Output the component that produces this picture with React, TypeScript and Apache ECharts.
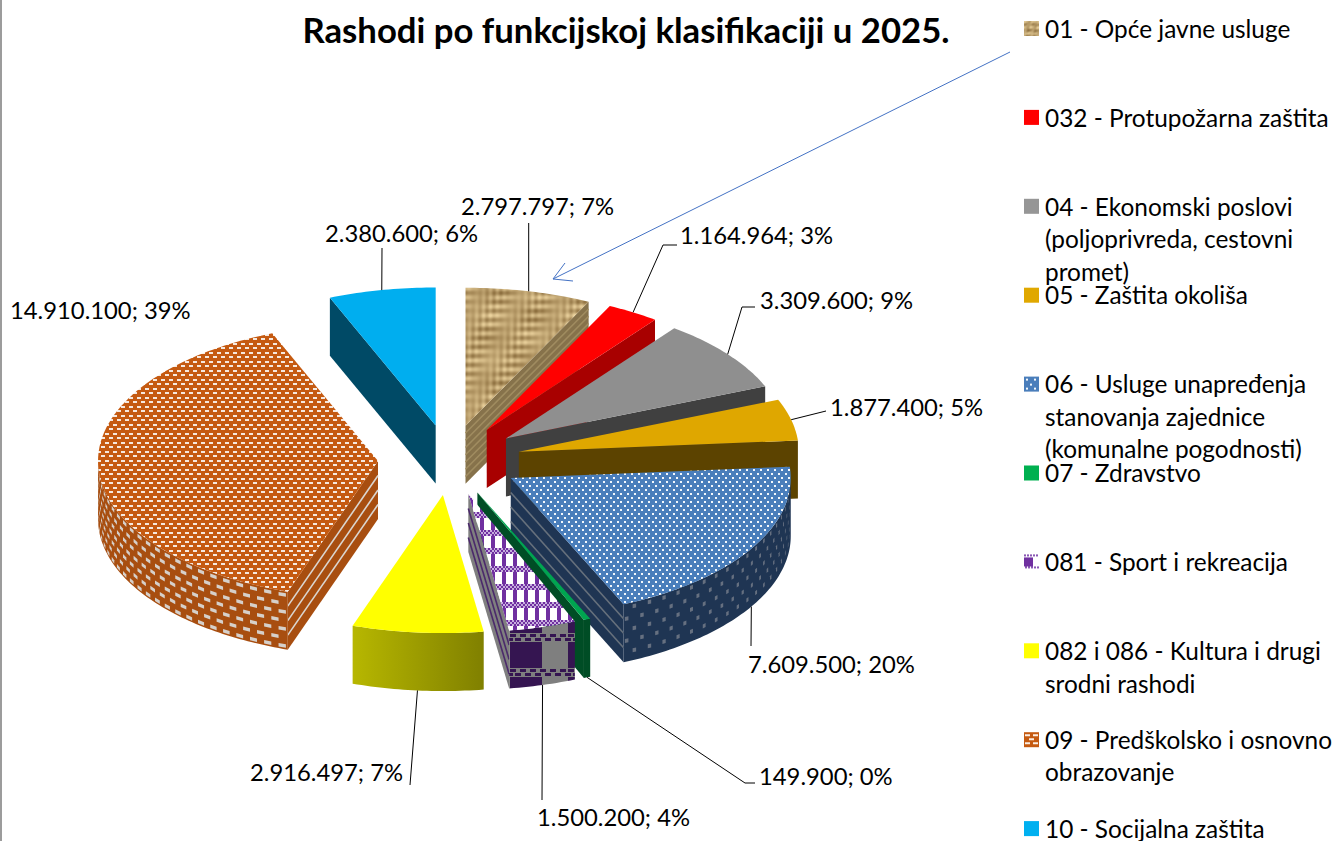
import React, { useEffect, useRef } from "react";
import * as echarts from "echarts";

const titleText = "Rashodi po funkcijskoj klasifikaciji u 2025.";
const categories = [
  "01 - Opće javne usluge",
  "032 - Protupožarna zaštita",
  "04 - Ekonomski poslovi\n(poljoprivreda, cestovni\npromet)",
  "05 - Zaštita okoliša",
  "06 - Usluge unapređenja\nstanovanja zajednice\n(komunalne pogodnosti)",
  "07 - Zdravstvo",
  "081 - Sport i rekreacija",
  "082 i 086 - Kultura i drugi\nsrodni rashodi",
  "09 - Predškolsko i osnovno\nobrazovanje",
  "10 - Socijalna zaštita",
];
const values = [2797797, 1164964, 3309600, 1877400, 7609500, 149900, 1500200, 2916497, 14910100, 2380600];
const valueLabels = ["2.797.797", "1.164.964", "3.309.600", "1.877.400", "7.609.500", "149.900", "1.500.200", "2.916.497", "14.910.100", "2.380.600"];
const percents = [7, 3, 9, 5, 20, 0, 4, 7, 39, 6];

// painter's order, back to front
const drawOrder = [0, 1, 2, 3, 9, 8, 4, 5, 6, 7];

// pie projection
const CX = 449.4, CY = 460, RX = 280, RY = 138, DEPTH = 58, EXPLODE = 0.255;
const total = values.reduce((a, b) => a + b, 0);
const rad = (d: number) => (d * Math.PI) / 180;
const startAngles: number[] = [];
values.reduce((acc, v, i) => { startAngles[i] = (acc / total) * 360; return acc + v; }, 0);
const endAngle = (i: number) => startAngles[i] + (values[i] / total) * 360;
const midAngle = (i: number) => (startAngles[i] + endAngle(i)) / 2;
const apex = (i: number) => {
  const m = rad(midAngle(i));
  return [CX + EXPLODE * RX * Math.sin(m), CY - EXPLODE * RY * Math.cos(m)];
};
const rim = (i: number, deg: number, dy = 0) => {
  const a = apex(i);
  return [a[0] + RX * Math.sin(rad(deg)), a[1] - RY * Math.cos(rad(deg)) + dy];
};
const arcPoints = (i: number, from: number, to: number, dy = 0) => {
  const pts: number[][] = [];
  const n = Math.max(2, Math.ceil(Math.abs(to - from)));
  for (let k = 0; k <= n; k++) pts.push(rim(i, from + ((to - from) * k) / n, dy));
  return pts;
};

// label layout: [left, middle] of the text, then the elbow/end points of the leader
const labelPos = [[461, 206], [680, 235], [760, 300], [830, 407], [748, 664], [759, 776], [537, 817], [250, 772], [10, 310], [325, 233]];
const leaderEnds: number[][][] = [
  [[528.7, 223]],
  [[663, 245], [677, 245]],
  [[742, 307], [755, 307]],
  [[826, 411]],
  [[751, 646]],
  [[745, 783], [755, 783]],
  [[542, 800]],
  [[410, 785]],
  [],
  [[382, 248]],
];
const leaderOnWall = [false, false, false, false, true, true, true, true, false, false];

function canvas(w: number, h: number, draw: (c: CanvasRenderingContext2D) => void) {
  const cv = document.createElement("canvas");
  cv.width = w;
  cv.height = h;
  draw(cv.getContext("2d")!);
  return cv;
}
function tile(w: number, h: number, draw: (c: CanvasRenderingContext2D) => void) {
  return { image: canvas(w, h, draw), repeat: "repeat", imageWidth: w, imageHeight: h };
}
const rects = (c: CanvasRenderingContext2D, color: string, list: number[][]) => {
  c.fillStyle = color;
  list.forEach((r) => c.fillRect(r[0], r[1], r[2], r[3]));
};
const paintBurlap = (c: CanvasRenderingContext2D, w: number, h: number, warpP: number, weftP: number) => {
  const img = c.createImageData(w, h);
  const T = 2 * Math.PI;
  for (let y = 0; y < h; y++)
    for (let x = 0; x < w; x++) {
      const warp = Math.cos((T * x) / warpP) * (0.7 + 0.5 * Math.cos((T * y) / h + (T * 2 * x) / w));
      const weft = Math.cos((T * y) / weftP) * (0.7 + 0.5 * Math.sin((T * 2 * x) / w + (T * y) / h));
      const low = Math.cos((T * x) / w + 1) * Math.cos((T * 2 * y) / h);
      const t = Math.max(0, Math.min(1, 0.5 + 0.14 * warp + 0.26 * weft + 0.1 * low));
      const p = (y * w + x) * 4;
      img.data[p] = 140 + t * 95;
      img.data[p + 1] = 110 + t * 100;
      img.data[p + 2] = 62 + t * 95;
      img.data[p + 3] = 255;
    }
  c.putImageData(img, 0, 0);
};
const burlap = () => tile(84, 90, (c) => paintBurlap(c, 84, 90, 7, 9));
const bluePattern = () =>
  tile(7, 8, (c) => {
    rects(c, "#4a7ebb", [[0, 0, 7, 8]]);
    rects(c, "#f4f8fc", [[1, 1, 2, 2], [4, 5, 2, 2]]);
  });
const orangePattern = () =>
  tile(8, 9, (c) => {
    rects(c, "#c55a11", [[0, 0, 8, 9]]);
    rects(c, "#f6e9df", [[1, 1, 4, 2], [5, 5, 3, 2], [0, 5, 1, 2]]);
  });
// bands and bars are placed where the reference has them on the page grid
const purplePattern = () =>
  tile(11, 18, (c) => {
    rects(c, "#ffffff", [[0, 0, 11, 18]]);
    rects(c, "#7030a0", [[7, 0, 4, 18]]);
    rects(c, "#c7aede", [[0, 8, 11, 6]]);
    rects(c, "#7030a0", [[0, 8, 2, 2], [4, 8, 2, 2], [8, 8, 2, 2], [2, 10, 2, 2], [6, 10, 2, 2], [10, 10, 1, 2], [0, 12, 2, 2], [4, 12, 2, 2], [8, 12, 2, 2]]);
  });
const purpleWall = () =>
  tile(58, 35, (c) => {
    const ox = 46, oy = 3; // page origin of the weave, modulo the tile
    [[0, 0], [-58, 0], [0, -35], [-58, -35]].forEach(([dx, dy]) => {
      c.save();
      c.translate(ox + dx, oy + dy);
      rects(c, "#351551", [[0, 0, 32, 35]]);
      rects(c, "#7f7f7f", [[32, 0, 26, 35]]);
      rects(c, "#7f7f7f", [[0, 0, 58, 9]]);
      for (let x = 0; x < 58; x += 10) rects(c, "#351551", [[x, 1, 6, 3], [x + 5, 5, 6, 3]]);
      c.restore();
    });
  });

const LinearGradient = (echarts.graphic as any).LinearGradient;

function buildStyles() {
  return [
    { top: burlap(), arc: "#7f6a45", side: "#86724b", stripes: ["#a08c60", 7] },
    { top: "#ff0000", arc: "#a80000", side: "#a80000" },
    { top: "#8f8f8f", arc: "#404040", side: "#404040" },
    { top: "#dfa700", arc: "#5c4300", side: "#5c4300" },
    { top: bluePattern(), arc: "#1f3553", side: "#1f3553", stripes: ["#66707c", 3], dashes: { color: "#667080", step: 3.5, width: 0.8, rowStep: 11, h: 4 } },
    { top: "#00a550", arc: "#004d25", side: "#004d25" },
    { top: purplePattern(), arc: purpleWall(), side: "#7f7f7f", stripes: ["#4b2a6b", 3] },
    { top: "#ffff00", arc: new LinearGradient(0, 0, 1, 0, [{ offset: 0, color: "#b7b700" }, { offset: 1, color: "#808000" }]), side: "#808000" },
    { top: orangePattern(), arc: "#a84e10", side: "#a84e10", stripes: ["#dbd6d0", 3], dashes: { color: "#d6d0ca", step: 3.2, width: 1.6, rowStep: 8.5, h: 3.5 } },
    { top: "#00aeef", arc: "#004a66", side: "#004a66" },
  ] as any[];
}
const solid = (color: string) => canvas(15, 15, (c) => rects(c, color, [[0, 0, 15, 15]]));
const swatchImages = () => [
  canvas(15, 15, (c) => paintBurlap(c, 15, 15, 7, 6)),
  solid("#ff0000"),
  solid("#969696"),
  solid("#e0a800"),
  canvas(15, 15, (c) => {
    rects(c, "#4a7ebb", [[0, 0, 15, 15]]);
    rects(c, "#f4f8fc", [[2, 2, 2, 2], [10, 2, 2, 2], [6, 7, 2, 2], [2, 11, 2, 2], [10, 11, 2, 2]]);
  }),
  solid("#00b050"),
  canvas(15, 15, (c) => {
    rects(c, "#ffffff", [[0, 0, 15, 15]]);
    rects(c, "#7030a0", [[0, 3, 9, 9]]);
    for (let x = 0; x < 15; x += 3) rects(c, "#8a58b4", [[x, 0, 2, 2], [x + 1, 12, 2, 2]]);
  }),
  solid("#ffff00"),
  canvas(15, 15, (c) => {
    rects(c, "#c55a11", [[0, 0, 15, 15]]);
    rects(c, "#fbeee4", [[1, 2, 5, 2], [9, 2, 5, 2], [5, 6, 5, 2], [1, 10, 5, 2], [9, 10, 5, 2]]);
  }),
  solid("#00b0f0"),
];

function radialWall(i: number, deg: number, style: any) {
  const a = apex(i);
  const r = rim(i, deg);
  const kids: any[] = [{
    type: "polygon",
    shape: { points: [a, r, [r[0], r[1] + DEPTH], [a[0], a[1] + DEPTH]] },
    style: { fill: style.side },
  }];
  if (style.stripes) {
    const n = style.stripes[1];
    for (let k = 1; k <= n; k++) {
      const dy = (DEPTH * k) / (n + 1);
      kids.push({
        type: "line",
        shape: { x1: a[0], y1: a[1] + dy, x2: r[0], y2: r[1] + dy },
        style: { stroke: style.stripes[0], lineWidth: 1.6 },
      });
    }
  }
  return kids;
}

function wallDashes(i: number, from: number, to: number, d: any) {
  const kids: any[] = [];
  let row = 0;
  for (let dy = 2; dy + d.h <= DEPTH; dy += d.rowStep, row++) {
    for (let deg = from + (row % 2) * (d.step / 2) + 0.4; deg + d.width <= to; deg += d.step) {
      kids.push({
        type: "polygon",
        shape: { points: [rim(i, deg, dy), rim(i, deg + d.width, dy), rim(i, deg + d.width, dy + d.h), rim(i, deg, dy + d.h)] },
        style: { fill: d.color },
      });
    }
  }
  return kids;
}

export default function App() {
  const ref = useRef<HTMLDivElement>(null);
  useEffect(() => {
    const chart = echarts.init(ref.current!, undefined, { renderer: "svg" });
    const styles = buildStyles();
    const swatches = swatchImages();
    const font = "Lato";
    const renderSlice = (_p: any, api: any) => {
      const i = api.value(0) as number;
      const a1 = startAngles[i], a2 = endAngle(i);
      const st = styles[i];
      const children: any[] = [];
      if (Math.sin(rad(a1)) < 0) children.push(...radialWall(i, a1, st));
      if (Math.sin(rad(a2)) > 0) children.push(...radialWall(i, a2, st));
      const from = Math.max(a1, 90), to = Math.min(a2, 270);
      if (to > from) {
        const up = arcPoints(i, from, to);
        const down = arcPoints(i, to, from, DEPTH);
        children.push({ type: "polygon", shape: { points: [...up, ...down] }, style: { fill: st.arc } });
        if (st.dashes) children.push(...wallDashes(i, from, to, st.dashes));
      }
      children.push({
        type: "polygon",
        shape: { points: [apex(i), ...arcPoints(i, a1, a2)] },
        style: { fill: st.top },
      });
      return { type: "group", children };
    };
    const renderLabel = (_p: any, api: any) => {
      const i = api.value(0) as number;
      const children: any[] = [];
      if (leaderEnds[i].length) {
        const start = rim(i, midAngle(i), leaderOnWall[i] ? DEPTH : 0);
        children.push({
          type: "polyline",
          shape: { points: [start, ...leaderEnds[i]] },
          style: { stroke: "#000000", lineWidth: 1, fill: "none" },
        });
      }
      children.push({
        type: "text",
        style: {
          text: `${valueLabels[i]}; ${percents[i]}%`,
          x: labelPos[i][0],
          y: labelPos[i][1],
          fill: "#000000",
          font: `23.8px ${font}`,
          textAlign: "left",
          textVerticalAlign: "middle",
        },
      });
      return { type: "group", children };
    };
    const legendTop = 21, legendStep = 88.9;
    const legend: any[] = [];
    categories.forEach((name, i) => {
      const y = legendTop + legendStep * i;
      legend.push({
        type: "image",
        silent: true,
        style: { image: swatches[i].toDataURL(), x: 1024, y, width: 15, height: 15 },
      });
      legend.push({
        type: "text",
        silent: true,
        style: {
          text: name,
          x: 1045,
          y: y - 9,
          fill: "#000000",
          font: `24.4px ${font}`,
          lineHeight: 32.5,
          textAlign: "left",
          textVerticalAlign: "top",
        },
      });
    });
    chart.setOption({
      animation: false,
      backgroundColor: "#ffffff",
      title: {
        text: titleText,
        left: 621,
        top: 7,
        textAlign: "center",
        textStyle: { fontFamily: font, fontWeight: "bold", fontSize: 34.7, color: "#000000" },
      },
      series: [
        {
          type: "custom",
          coordinateSystem: "none",
          silent: true,
          z: 2,
          renderItem: renderSlice,
          data: drawOrder.map((i) => ({ name: categories[i], value: [i, values[i]] })),
        },
        {
          type: "custom",
          coordinateSystem: "none",
          silent: true,
          z: 3,
          renderItem: renderLabel,
          data: values.map((v, i) => ({ name: categories[i], value: [i, v] })),
        },
      ],
      graphic: [
        {
          type: "group",
          silent: true,
          children: [
            { type: "rect", shape: { x: 0, y: 0, width: 2, height: 841 }, style: { fill: "#9c9c9c" } },
            { type: "line", shape: { x1: 1010, y1: 52, x2: 553, y2: 279 }, style: { stroke: "#4472c4", lineWidth: 1 } },
            { type: "polyline", shape: { points: [[565, 263], [553, 279], [573, 281]] }, style: { stroke: "#4472c4", lineWidth: 1, fill: "none" } },
            ...legend,
          ],
        },
      ],
    });
    return () => chart.dispose();
  }, []);
  return <div ref={ref} style={{ position: "absolute", left: 0, top: 0, width: 1335, height: 841 }} />;
}
